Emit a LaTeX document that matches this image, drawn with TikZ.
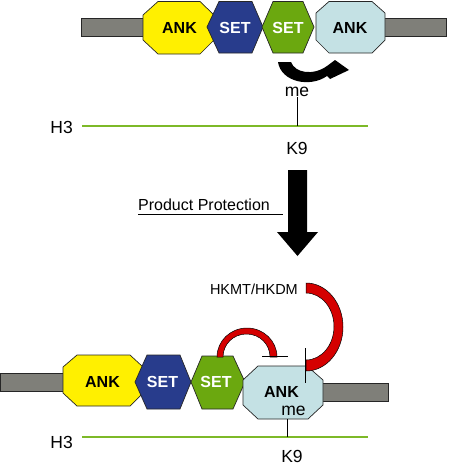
\documentclass[tikz,border=0pt]{standalone}
\usepackage{fontspec}
\setmainfont{Liberation Sans}
\definecolor{barc}{HTML}{7F7F79}
\definecolor{yelc}{HTML}{FFF000}
\definecolor{bluc}{HTML}{283C8C}
\definecolor{grnc}{HTML}{6BA80F}
\definecolor{lbc}{HTML}{C4E1E4}
\definecolor{h3c}{HTML}{7DB928}
\definecolor{redc}{HTML}{D50000}
\begin{document}
\begin{tikzpicture}[x=1pt,y=-1pt,
  outl/.style={draw=black!85, line width=0.7pt},
  lbl/.style={font=\fontsize{17.5}{17.5}\selectfont, inner sep=0pt},
  dom/.style={font=\bfseries\fontsize{16}{16}\selectfont, inner sep=0pt},
  wdom/.style={dom, text=white},
  h3line/.style={draw=h3c, line width=2.6pt},
  thin/.style={draw=black, line width=0.8pt},
  ribbon/.style={fill=redc, draw=black, line width=0.5pt}]
\useasboundingbox (0,0) rectangle (450,466);

% ---------- top row ----------
\filldraw[fill=barc, outl] (81,18) rectangle (146,36);
\filldraw[fill=barc, outl] (383,18) rectangle (446,36);
\filldraw[fill=yelc, outl] (143,15)--(158,1.5)--(200,1.5)--(214,15)--(214,40)--(200,54)--(158,54)--(143,40)--cycle;
\filldraw[fill=lbc, outl] (316,13)--(329,1.5)--(372,1.5)--(385,13)--(385,40)--(372,53)--(329,53)--(316,40)--cycle;
\filldraw[fill=bluc, outl] (207,27)--(219,1.5)--(252,1.5)--(263,27)--(252,53)--(219,53)--cycle;
\filldraw[fill=grnc, outl] (262,27)--(273,1.5)--(303,1.5)--(314,27)--(303,53)--(273,53)--cycle;
\node[dom] (ank1) at (179.5,27.5) {ANK};
\node[wdom] (set1) at (235,27.5) {SET};
\node[wdom] (set2) at (288,27.5) {SET};
\node[dom] (ank2) at (350,27.5) {ANK};

% curved black arrow
\fill[black] (278,62) -- (291,62) .. controls (295,73) and (313,76) .. (327,66)
  -- (335,60) -- (349,70) -- (330,79) -- (327,76)
  .. controls (310,88) and (281,82) .. (278,62) -- cycle;

% histone tail top
\coordinate (h3aS) at (82,126);
\coordinate (h3bS) at (368,126);
\draw[h3line] (h3aS) -- (h3bS);
\node[lbl, anchor=east] (h3top) at (73,127) {H3};
\node[lbl] (meTop) at (297,92) {me};
\coordinate (k9attach) at (297,126);
\draw[thin] (meTop.south) -- (k9attach);
\node[lbl] (k9top) at (297,148) {K9};

% product protection arrow
\fill[black] (288,170) -- (307,170) -- (307,232) -- (318,232) -- (297.5,256) -- (277,232) -- (288,232) -- cycle;
\node[font=\fontsize{16}{16}\selectfont, inner sep=0pt, anchor=west] (pp) at (138,205) {Product Protection};
\coordinate (ulA) at (138,214);
\coordinate (ulB) at (283,214);
\draw[line width=0.8pt] (ulA) -- (ulB);

% ---------- bottom row ----------
\filldraw[fill=barc, outl] (0.5,373) rectangle (65,391);
\filldraw[fill=barc, outl] (321,383) rectangle (388,401);
\filldraw[fill=yelc, outl] (63,367)--(77,355)--(130,355)--(143,367)--(143,393)--(130,406)--(77,406)--(63,393)--cycle;
\filldraw[fill=bluc, outl] (135,382)--(147,355)--(180,355)--(191,382)--(180,409)--(147,409)--cycle;
\filldraw[fill=grnc, outl] (191,382)--(202,356)--(233,356)--(245,382)--(233,409)--(202,409)--cycle;
\filldraw[fill=lbc, outl] (243,380)--(258,366)--(307,366)--(323,380)--(323,405)--(308,419)--(258,419)--(243,405)--cycle;
\node[dom] (ank3) at (102.5,382) {ANK};
\node[wdom] (set3) at (162.5,382) {SET};
\node[wdom] (set4) at (216,382) {SET};
\node[dom] (ank4) at (281.5,392) {ANK};
\node[lbl] (meBot) at (293.5,411) {me};

% small red ribbon (SET -> ANK inhibition)
\filldraw[ribbon] (217,357) .. controls (217,341) and (230.4,328) .. (247,328)
  .. controls (263.6,328) and (277,341) .. (277,357) -- (270,357)
  .. controls (270,344.3) and (259.8,334) .. (246.5,334)
  .. controls (233.2,334) and (223,344.3) .. (223,357) -- cycle;
\coordinate (tbarA) at (262,356);
\coordinate (tbarB) at (288,356);
\draw[thin] (tbarA) -- (tbarB);

% HKMT/HKDM and big red ribbon
\node[font=\fontsize{14.5}{14.5}\selectfont, inner sep=0pt, anchor=east] (hk) at (298,289) {HKMT/HKDM};
\filldraw[ribbon] (306,283) .. controls (326.4,283) and (343,302.7) .. (343,327)
  .. controls (343,351.3) and (326.4,371) .. (306,371) -- (306,360)
  .. controls (321.5,360) and (334,345) .. (334,326.5)
  .. controls (334,308) and (321.5,293) .. (306,293) -- cycle;
\coordinate (vbarA) at (305,348);
\coordinate (vbarB) at (305,383);
\draw[thin] (vbarA) -- (vbarB);

% histone tail bottom
\coordinate (h3aB) at (82,437);
\coordinate (h3bB) at (368,437);
\draw[h3line] (h3aB) -- (h3bB);
\node[lbl, anchor=east] (h3bot) at (73,442) {H3};
\coordinate (meline1) at (287,419);
\coordinate (meline2) at (287,437);
\draw[thin] (meline1) -- (meline2);
\node[lbl] (k9bot) at (292,456) {K9};
\end{tikzpicture}
\end{document}
